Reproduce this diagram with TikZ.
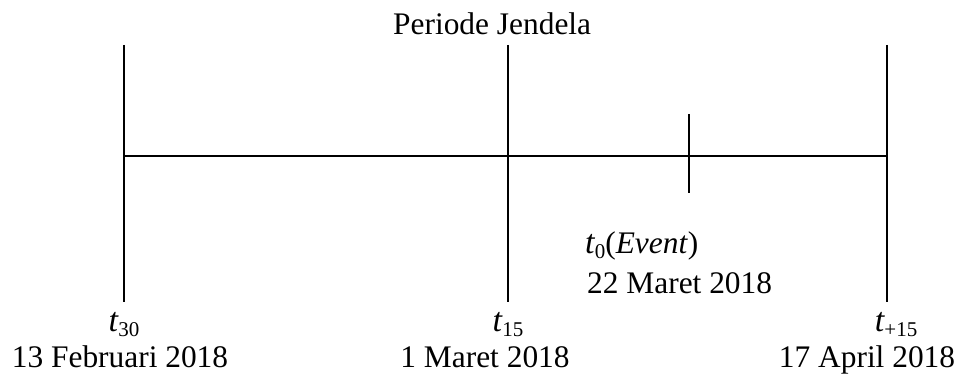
\documentclass[tikz,border=0pt]{standalone}
\usepackage{fontspec}
\setmainfont{Liberation Serif}
\usetikzlibrary{positioning}

\newcommand{\tsym}[1]{\textit{t}\kern-0.5pt\raisebox{-5pt}{\fontsize{21}{21}\selectfont#1}}

\begin{document}
\begin{tikzpicture}[
        x=1pt, y=-1pt,
        timeline/.style={line width=1.6pt, draw=black},
        datelabel/.style={anchor=base, inner sep=0pt, font=\fontsize{31.4}{36}\selectfont},
        tlabel/.style={anchor=base, inner sep=0pt, font=\fontsize{34}{38}\selectfont}
    ]
        \useasboundingbox (0,0) rectangle (968,374);

        % Points
        \coordinate (starttop) at (124, 45);
        \coordinate (startbot) at (124, 302);
        \coordinate (midtop) at (508, 45);
        \coordinate (midbot) at (508, 302);
        \coordinate (endtop) at (887, 45);
        \coordinate (endbot) at (887, 302);
        \coordinate (linestart) at (124, 156);
        \coordinate (lineend) at (887, 156);
        \coordinate (eventtop) at (689, 114);
        \coordinate (eventbot) at (689, 193);

        % Lines
        \draw[timeline] (starttop) -- (startbot);
        \draw[timeline] (midtop) -- (midbot);
        \draw[timeline] (endtop) -- (endbot);
        \draw[timeline] (linestart) -- (lineend);
        \draw[timeline] (eventtop) -- (eventbot);

        % Labels
        \node[datelabel, anchor=base west] (window) at (393, 35) {Periode Jendela};
        \node[tlabel] (t30) at (124, 331) {\tsym{30}};
        \node[datelabel] (date30) at (120, 367) {13 Februari 2018};
        \node[tlabel] (t15) at (508, 331) {\tsym{15}};
        \node[datelabel] (date15) at (485, 367) {1 Maret 2018};
        \node[tlabel] (tplus15) at (896, 331) {\tsym{+15}};
        \node[datelabel] (dateplus15) at (867, 367) {17 April 2018};
        \node[datelabel, anchor=base west] (t0) at (585, 253) {{\fontsize{34}{38}\selectfont\tsym{0}}(\textit{Event})};
        \node[datelabel, anchor=base west] (date0) at (587, 293) {22 Maret 2018};

    \end{tikzpicture}
\end{document}
